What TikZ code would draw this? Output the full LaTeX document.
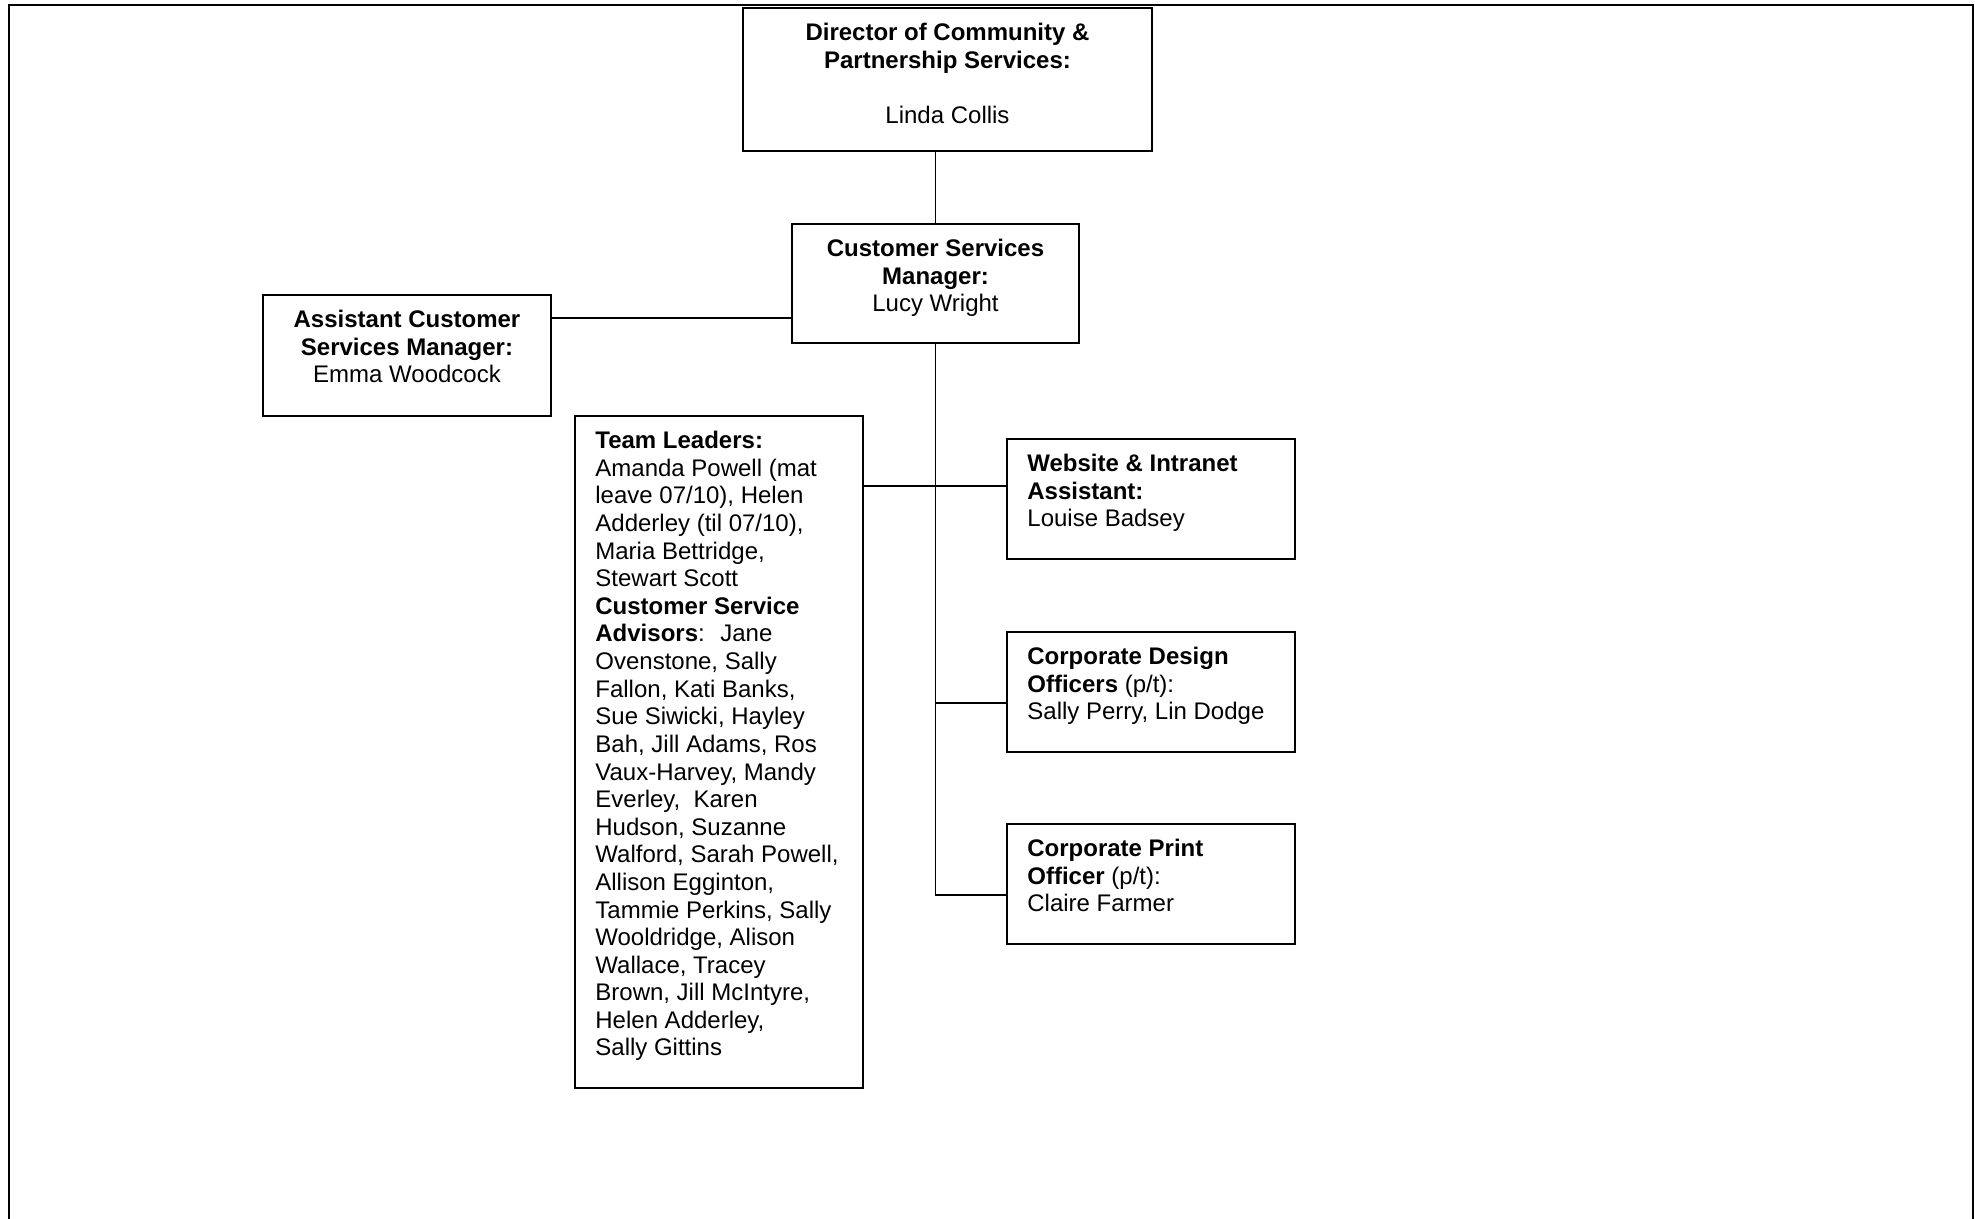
\documentclass[tikz,border=0pt]{standalone}
\usepackage{fontspec}
\setmainfont{Liberation Sans}
\usetikzlibrary{calc}
\begin{document}
\begin{tikzpicture}[x=0.5pt,y=-0.5pt,
  box/.style={draw=black, line width=1pt, anchor=north west, inner sep=0pt, fill=white},
  conn/.style={draw=black, line width=0.7pt},
  ctxt/.style={anchor=north, inner sep=0pt, align=center, font=\fontsize{12pt}{13.8pt}\selectfont},
  ltxt/.style={anchor=north west, inner sep=0pt, align=left, font=\fontsize{12pt}{13.8pt}\selectfont}]
\useasboundingbox (0,0) rectangle (1975,1219);
\draw[line width=1.2pt] (9,1225) -- (9,5) -- (1973,5) -- (1973,1225);

\coordinate (jA) at (0,318);
\coordinate (jW) at (0,486);
\coordinate (jD) at (0,703);
\coordinate (jP) at (0,895);

% boxes
\node[box, minimum width=204.5pt, minimum height=71.5pt] (dir) at (742,7) {};
\node[box, minimum width=143.5pt, minimum height=59.5pt] (csm) at (791,223) {};
\node[box, minimum width=144pt, minimum height=60.5pt] (acsm) at (262,294) {};
\node[box, minimum width=144pt, minimum height=336pt] (team) at (574,415) {};
\node[box, minimum width=144pt, minimum height=60pt] (web) at (1006,438) {};
\node[box, minimum width=144pt, minimum height=60pt] (des) at (1006,631) {};
\node[box, minimum width=144pt, minimum height=60pt] (prt) at (1006,823) {};

% connectors
\draw[conn] (dir.south -| csm.north) -- (csm.north);
\draw[conn] (acsm.east |- jA) -- (csm.west |- jA);
\draw[conn] (csm.south) -- (csm.south |- jP) -- (prt.west |- jP);
\draw[conn] (team.east |- jW) -- (web.west |- jW);
\draw[conn] (csm.south |- jD) -- (des.west |- jD);

% texts
\node[ctxt] (dirT) at ($(dir.north)+(0,16)$) {\textbf{Director of Community \&}\\\textbf{Partnership Services:}\\[13.8pt]Linda Collis};
\node[ctxt] (csmT) at ($(csm.north)+(0,16)$) {\textbf{Customer Services}\\\textbf{Manager:}\\Lucy Wright};
\node[ctxt] (acsmT) at ($(acsm.north)+(0,16)$) {\textbf{Assistant Customer}\\\textbf{Services Manager:}\\Emma Woodcock};
\node[ltxt] (teamT) at ($(team.north west)+(21,16)$) {\textbf{Team Leaders:}\\
Amanda Powell (mat\\
leave 07/10), Helen\\
Adderley (til 07/10),\\
Maria Bettridge,\\
Stewart Scott\\
\textbf{Customer Service}\\
\textbf{Advisors}:~ Jane\\
Ovenstone, Sally\\
Fallon, Kati Banks,\\
Sue Siwicki, Hayley\\
Bah, Jill Adams, Ros\\
Vaux-Harvey, Mandy\\
Everley,~ Karen\\
Hudson, Suzanne\\
Walford, Sarah Powell,\\
Allison Egginton,\\
Tammie Perkins, Sally\\
Wooldridge, Alison\\
Wallace, Tracey\\
Brown, Jill McIntyre,\\
Helen Adderley,\\
Sally Gittins};
\node[ltxt] (webT) at ($(web.north west)+(21,16)$) {\textbf{Website \& Intranet}\\\textbf{Assistant:}\\Louise Badsey};
\node[ltxt] (desT) at ($(des.north west)+(21,16)$) {\textbf{Corporate Design}\\\textbf{Officers} (p/t):\\Sally Perry, Lin Dodge};
\node[ltxt] (prtT) at ($(prt.north west)+(21,16)$) {\textbf{Corporate Print}\\\textbf{Officer} (p/t):\\Claire Farmer};
\end{tikzpicture}
\end{document}
